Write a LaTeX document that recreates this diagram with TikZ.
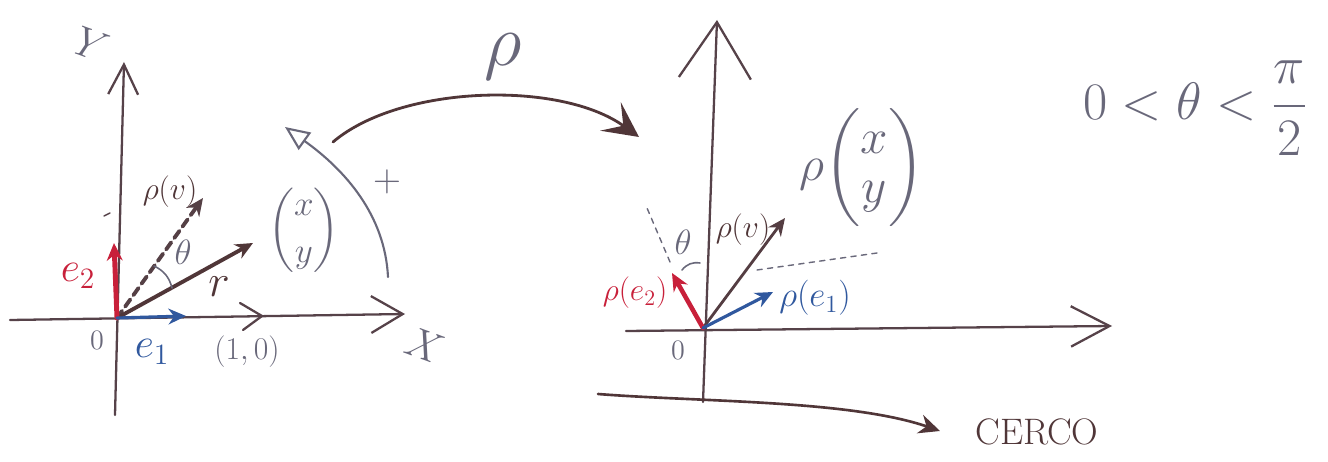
\RequirePackage{fix-cm}
\documentclass[tikz,border=0pt]{standalone}
\usepackage{amsmath}
\usepackage{amssymb}
\usetikzlibrary{arrows.meta}

\definecolor{pencil}{RGB}{105,104,122}
\definecolor{ink}{RGB}{80,54,56}
\definecolor{redink}{RGB}{200,32,58}
\definecolor{blueink}{RGB}{48,88,158}
\newcommand\fsz[1]{\fontsize{#1}{#1}\selectfont}

\tikzset{
  axis/.style={draw=ink!75!pencil,line width=1.3pt},
  vec/.style={line width=2.2pt,-{Stealth[length=10pt,width=9pt]}},
  lbl/.style={inner sep=0pt,text=pencil},
}

\begin{document}
\begin{tikzpicture}[line cap=round,line join=round]
\def\px{0.02cm}
\begin{scope}[x=\px,y=-\px]
\useasboundingbox (0,0) rectangle (1328,462);

% left plane
\coordinate (oa) at (117,318);
\coordinate (xa0) at (10,320);
\coordinate (xa) at (405,314);
\coordinate (ya0) at (115,415);
\coordinate (ya) at (124,62);
\coordinate (e1a) at (186,316);
\coordinate (e2a) at (114,243);
\coordinate (va) at (253,243);
\coordinate (pva) at (203,198);

\draw[axis,-{Straight Barb[length=18pt,width=21pt]}] (xa0) -- (xa);
\draw[axis,-{Straight Barb[length=17pt,width=17pt]}] (ya0) -- (ya);
\draw[axis] (240,303) -- (262,316) -- (243,330);
\draw[axis,line width=0.8pt] (104,216) -- (110,213);

\draw[vec,ink!80!pencil,dash pattern=on 5pt off 3pt] (oa) -- (pva);
\draw[vec,ink] (oa) -- (va);
\draw[vec,redink,line width=2.8pt] (oa) -- (e2a);
\draw[vec,blueink,line width=1.8pt] (oa) -- (e1a);
\draw[pencil,line width=0.9pt] (172,288) to[bend right=25] (154,266);

\node[lbl,font=\fsz{24},rotate=-20] (ylab) at (92,45) {$Y$};
\node[lbl,font=\fsz{24},rotate=-20] (xlab) at (425,345) {$X$};
\node[lbl,font=\fsz{16}] (oalab) at (97,340) {$0$};
\node[lbl,font=\fsz{24},text=redink] (e2lab) at (78,276) {$e_2$};
\node[lbl,font=\fsz{24},text=blueink] (e1lab) at (152,352) {$e_1$};
\node[lbl,font=\fsz{18}] (unit) at (247,352) {$(1,0)$};
\node[lbl,font=\fsz{26},text=ink] (rlab) at (219,287) {$r$};
\node[lbl,font=\fsz{20}] (xy) at (304,230) {$\dbinom{x}{y}$};
\node[lbl,font=\fsz{18},text=ink] (pvlab) at (170,192) {$\rho(v)$};
\node[lbl,font=\fsz{20}] (tha) at (183,252) {$\theta$};

% rotation sense and the map
\coordinate (pa) at (388,277);
\coordinate (pb) at (285,127);
\draw[pencil,line width=1.2pt,-{Triangle[open,length=14pt,width=12pt]}]
  (pa) .. controls (385,215) and (345,170) .. (pb);
\node[lbl,font=\fsz{22}] (plus) at (387,182) {$+$};

\coordinate (ma) at (333,142);
\coordinate (mb) at (639,137);
\draw[ink,line width=1.6pt,-{Stealth[length=20pt,width=20pt,inset=9pt]}]
  (ma) .. controls (400,85) and (560,80) .. (mb);
\node[lbl,font=\fsz{42},anchor=base] (rho) at (503,66) {$\rho$};

% right plane
\coordinate (ob) at (703,328);
\coordinate (xb0) at (626,331);
\coordinate (xb) at (1112,326);
\coordinate (yb0) at (703,402);
\coordinate (yb) at (717,20);
\coordinate (pe1) at (773,292);
\coordinate (pe2) at (672,273);
\coordinate (pvb) at (785,218);

\draw[axis,-{Straight Barb[length=22pt,width=23pt]}] (xb0) -- (xb);
\draw[axis,-{Straight Barb[length=32pt,width=41pt]}] (yb0) -- (yb);
\draw[pencil,line width=0.8pt,dashed] (670,262) -- (647,208);
\draw[pencil,line width=0.8pt,dashed] (757,270) -- (877,253);

\draw[vec,ink!85!pencil,line width=1.6pt] (ob) -- (pvb);
\draw[vec,redink,line width=2.6pt] (ob) -- (pe2);
\draw[vec,blueink,line width=1.8pt] (ob) -- (pe1);
\draw[pencil,line width=0.9pt] (682,270) to[bend left=30] (700,263);

\node[lbl,font=\fsz{16}] (oblab) at (678,350) {$0$};
\node[lbl,font=\fsz{18},text=redink] (pe2lab) at (635,293) {$\rho(e_2)$};
\node[lbl,font=\fsz{20},text=blueink] (pe1lab) at (815,298) {$\rho(e_1)$};
\node[lbl,font=\fsz{18},text=ink] (pvblab) at (743,230) {$\rho(v)$};
\node[lbl,font=\fsz{20}] (thb) at (683,242) {$\theta$};
\node[lbl,font=\fsz{28}] (pxy) at (862,168) {$\rho\!\begin{pmatrix}x\\y\end{pmatrix}$};

\coordinate (ca) at (598,394);
\coordinate (cb) at (940,431);
\draw[ink,line width=1.5pt,-{Stealth[length=12pt,width=11pt]}]
  (ca) .. controls (700,402) and (850,400) .. (cb);
\node[lbl,font=\fsz{21},text=ink,anchor=west] (cerco) at (975,432) {CERCO};

\node[lbl,font=\fsz{30}] (range) at (1195,108) {$0<\theta<\dfrac{\pi}{2}$};
\end{scope}
\end{tikzpicture}
\end{document}
